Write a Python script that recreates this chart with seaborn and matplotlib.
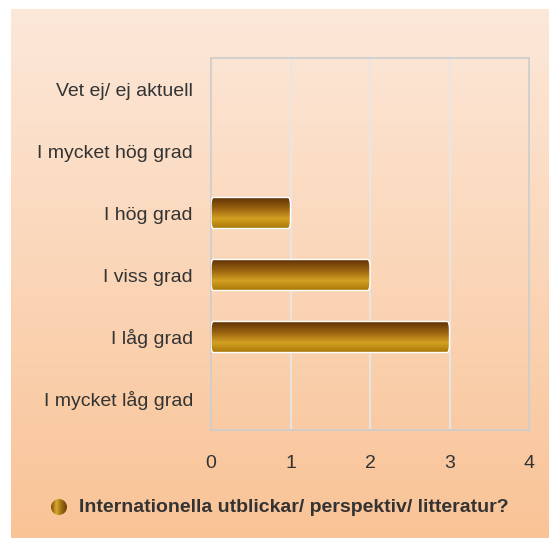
import numpy as np
import pandas as pd
import matplotlib
matplotlib.use("Agg")
import matplotlib.pyplot as plt
import seaborn as sns
from matplotlib.colors import LinearSegmentedColormap
from matplotlib.patches import FancyBboxPatch

categories = ["Vet ej/ ej aktuell", "I mycket hög grad", "I hög grad",
              "I viss grad", "I låg grad", "I mycket låg grad"]
values = [0, 0, 1, 2, 3, 0]
series_name = "Internationella utblickar/ perspektiv/ litteratur?"
xticks = [0, 1, 2, 3, 4]

df = pd.DataFrame({"category": categories, "value": values})

sns.set_style("white")
plt.rcParams["font.family"] = ["Liberation Sans", "DejaVu Sans"]

W, H = 549, 545
fig = plt.figure(figsize=(W / 100, H / 100), dpi=100)
fig.patch.set_facecolor("white")

# background panel with vertical gradient
bg = fig.add_axes([11 / W, 1 - 538 / H, 1 - 11 / W, (538 - 9) / H])
bg_cmap = LinearSegmentedColormap.from_list("bg", ["#fce8d9", "#f9c396"])
bg.imshow(np.linspace(0, 1, 256).reshape(-1, 1), aspect="auto", cmap=bg_cmap,
          extent=[0, 1, 0, 1], origin="upper")
bg.set_axis_off()

ax = fig.add_axes([211 / W, 1 - 430 / H, (529 - 211) / W, (430 - 58) / H])
ax.patch.set_alpha(0)
sns.barplot(data=df, x="value", y="category", orient="h", ax=ax,
            width=0.5, color="#b07820", edgecolor="none")

bar_cmap = LinearSegmentedColormap.from_list(
    "bar", [(0, "#5e3006"), (0.35, "#97600f"), (0.7, "#d4a022"), (1, "#a97808")])
grad = np.linspace(0, 1, 256).reshape(-1, 1)
for p in list(ax.patches):
    x0, y0 = p.get_x(), p.get_y()
    w, h = p.get_width(), p.get_height()
    p.set_visible(False)
    if w <= 0:
        continue
    fb = FancyBboxPatch((x0, y0), w, h, boxstyle="round,pad=0,rounding_size=0.03",
                        mutation_aspect=4.5, facecolor="none", edgecolor="white",
                        linewidth=1.0, zorder=4)
    ax.add_patch(fb)
    im = ax.imshow(grad, aspect="auto", cmap=bar_cmap,
                   extent=[x0, x0 + w, y0 + h, y0], origin="upper", zorder=3)
    im.set_clip_path(fb)

ax.set_xlim(0, 4)
ax.set_ylim(5.5, -0.5)
ax.set_xticks(xticks)
ax.set_xticklabels([str(t) for t in xticks])
ax.grid(axis="x", color="#e6e6e6", linewidth=1.3)
ax.set_axisbelow(True)
for s in ax.spines.values():
    s.set_color("#cccccc")
    s.set_linewidth(1.2)
ax.tick_params(axis="both", length=0, labelsize=14, colors="#333333")
ax.tick_params(axis="y", pad=13)
ax.tick_params(axis="x", pad=18)
ax.set_xlabel("")
ax.set_ylabel("")

# legend marker + text
leg_cmap = LinearSegmentedColormap.from_list(
    "leg", ["#7a4a06", "#d9a830", "#9a6a10", "#6b4004"])
lx = fig.add_axes([51 / W, 1 - 515 / H, 16 / W, 16 / H])
circ = plt.Circle((0.5, 0.5), 0.5, transform=lx.transAxes, facecolor="none",
                  edgecolor="none")
lx.add_patch(circ)
li = lx.imshow(np.linspace(0, 1, 256).reshape(1, -1), aspect="auto", cmap=leg_cmap,
               extent=[0, 1, 0, 1])
li.set_clip_path(circ)
lx.set_xlim(0, 1)
lx.set_ylim(0, 1)
lx.set_axis_off()

fig.text(79 / W, 1 - 507 / H, series_name, fontsize=14, fontweight="bold",
         color="#333333", va="center", ha="left")

fig.savefig("out.png", dpi=100, facecolor="white")
